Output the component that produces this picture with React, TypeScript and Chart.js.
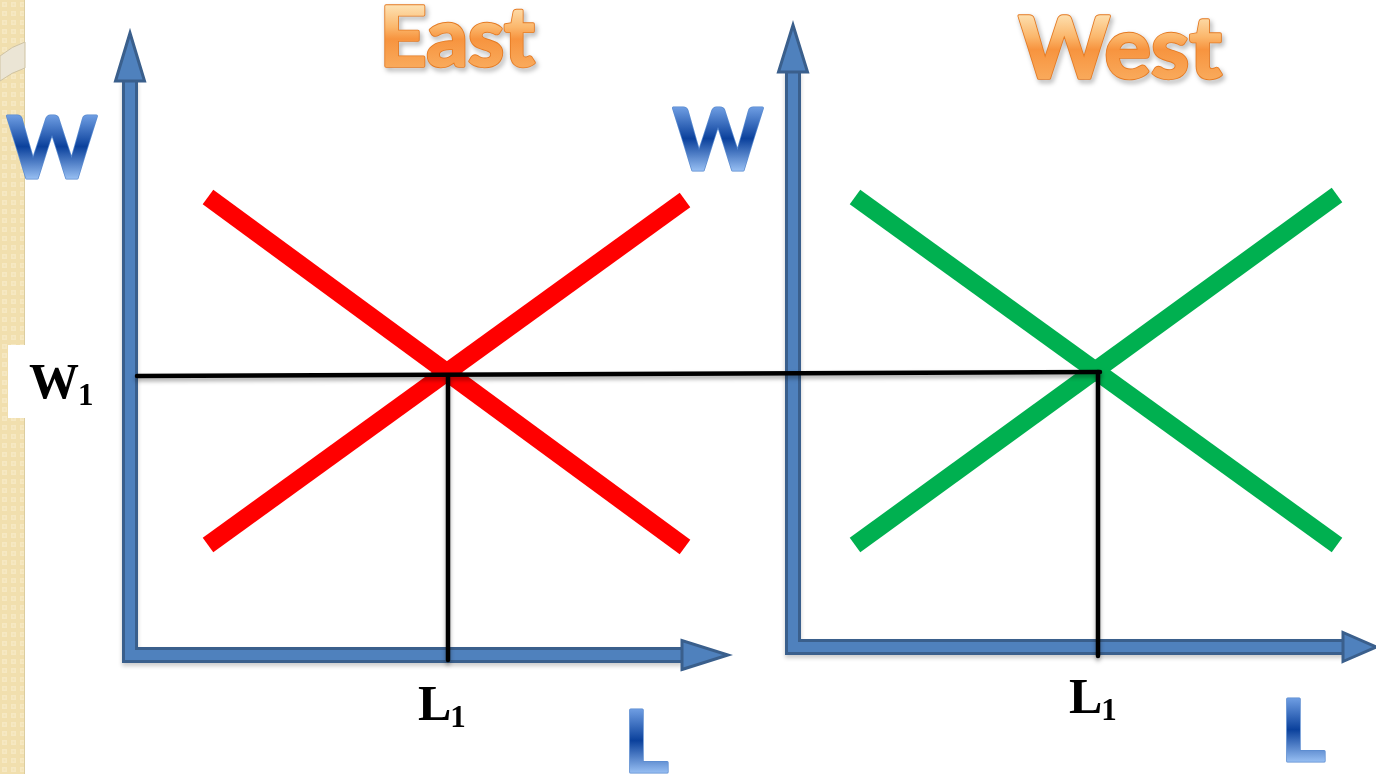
import React, { useEffect, useRef } from 'react';
import { Chart, registerables } from 'chart.js';

Chart.register(...registerables);

const PAGE_W = 1376;
const PAGE_H = 774;

// Curves and guide lines, read in page units (x from left, y from top)
const eastDemand = [{ x: 208, y: 197 }, { x: 685, y: 547 }];
const eastSupply = [{ x: 208, y: 545 }, { x: 685, y: 200 }];
const westDemand = [{ x: 855, y: 197 }, { x: 1337, y: 545 }];
const westSupply = [{ x: 855, y: 545 }, { x: 1337, y: 195 }];
const wageLine = [{ x: 137, y: 376 }, { x: 1100, y: 372 }];
const eastL1Line = [{ x: 448, y: 376 }, { x: 448, y: 660 }];
const westL1Line = [{ x: 1098, y: 372 }, { x: 1098, y: 656 }];

// Axis shafts (up to the arrow-head bases) and arrow heads
const eastAxis = [{ x: 130, y: 80 }, { x: 130, y: 655 }, { x: 683, y: 655 }];
const westAxis = [{ x: 793, y: 71 }, { x: 793, y: 647 }, { x: 1344, y: 647 }];
const arrowHeads = [
  { tip: { x: 130, y: 33 }, base: { x: 130, y: 81 } },
  { tip: { x: 728, y: 655 }, base: { x: 682, y: 655 } },
  { tip: { x: 793, y: 25 }, base: { x: 793, y: 72 } },
  { tip: { x: 1376, y: 647 }, base: { x: 1343, y: 647 } },
];

// Text labels
const titles = [
  { text: 'East', x: 457, y: 66, size: 82 },
  { text: 'West', x: 1120, y: 78, size: 87 },
];
const axisLetters = [
  { text: 'W', x: 52, y: 178, size: 86 },
  { text: 'W', x: 718, y: 170, size: 86 },
  { text: 'L', x: 646, y: 772, size: 86 },
  { text: 'L', x: 1303, y: 761, size: 86 },
];
const valueLabels = [
  { main: 'W', sub: '1', x: 29, y: 398 },
  { main: 'L', sub: '1', x: 418, y: 720 },
  { main: 'L', sub: '1', x: 1069, y: 713 },
];

const BLUE_FILL = '#4f81bd';
const BLUE_EDGE = '#3a5f8c';

function glossyText(
  ctx: CanvasRenderingContext2D,
  text: string,
  x: number,
  y: number,
  size: number,
  stops: [number, string][],
  stroke: string,
  shadow: boolean,
  weightStroke: number
) {
  ctx.save();
  ctx.font = `bold ${size}px Lato, "Open Sans", sans-serif`;
  ctx.textAlign = 'center';
  ctx.textBaseline = 'alphabetic';
  ctx.lineJoin = 'round';
  const top = y - size * 0.73;
  const g = ctx.createLinearGradient(0, top, 0, y);
  stops.forEach(([o, c]) => g.addColorStop(o, c));
  if (shadow) {
    ctx.shadowColor = 'rgba(0,0,0,0.35)';
    ctx.shadowBlur = 5;
    ctx.shadowOffsetX = 2;
    ctx.shadowOffsetY = 3;
  }
  // thickening outline
  ctx.lineWidth = weightStroke;
  ctx.strokeStyle = stroke;
  ctx.strokeText(text, x, y);
  ctx.shadowColor = 'transparent';
  ctx.fillStyle = g;
  ctx.fillText(text, x, y);
  ctx.lineWidth = weightStroke * 0.5;
  ctx.strokeStyle = g;
  ctx.strokeText(text, x, y);
  ctx.restore();
}

const decorPlugin = {
  id: 'decor',
  beforeDraw(chart: any) {
    const ctx: CanvasRenderingContext2D = chart.ctx;
    ctx.save();
    ctx.fillStyle = '#ffffff';
    ctx.fillRect(0, 0, chart.width, chart.height);
    // textured side strip
    const stripW = 25;
    ctx.fillStyle = '#f1dfae';
    ctx.fillRect(0, 0, stripW, chart.height);
    ctx.fillStyle = '#f6e8c2';
    for (let ty = 0; ty < chart.height; ty += 9) {
      for (let tx = 0; tx < stripW; tx += 9) {
        ctx.fillRect(tx + 2, ty + 2, 5, 5);
      }
    }
    ctx.fillStyle = '#f2e2b6';
    for (let ty = 0; ty < chart.height; ty += 9) {
      for (let tx = 0; tx < stripW; tx += 9) {
        ctx.fillRect(tx + 3.5, ty + 3.5, 2, 2);
      }
    }
    ctx.fillStyle = '#dccd9f';
    ctx.fillRect(stripW - 1, 0, 1, chart.height);
    // curved ribbon
    ctx.beginPath();
    ctx.moveTo(0, 56);
    ctx.quadraticCurveTo(12, 46, stripW, 42);
    ctx.lineTo(stripW, 68);
    ctx.quadraticCurveTo(12, 72, 0, 81);
    ctx.closePath();
    ctx.fillStyle = '#ebe5d5';
    ctx.fill();
    ctx.strokeStyle = '#cfc3a3';
    ctx.lineWidth = 1;
    ctx.stroke();
    // white box behind W1 label
    ctx.fillStyle = '#ffffff';
    ctx.fillRect(8, 345, 40, 73);
    ctx.restore();
  },
  beforeDatasetDraw(chart: any, args: any) {
    const ds = chart.data.datasets[args.index];
    const ctx: CanvasRenderingContext2D = chart.ctx;
    ctx.save();
    if (ds.shadow) {
      ctx.shadowColor = ds.shadow;
      ctx.shadowBlur = 4;
      ctx.shadowOffsetX = 0;
      ctx.shadowOffsetY = 3;
    }
  },
  afterDatasetDraw(chart: any) {
    chart.ctx.restore();
  },
  afterDatasetsDraw(chart: any) {
    const ctx: CanvasRenderingContext2D = chart.ctx;
    const sx = chart.scales.x;
    const sy = chart.scales.y;
    const P = (p: { x: number; y: number }) => ({ x: sx.getPixelForValue(p.x), y: sy.getPixelForValue(p.y) });

    // arrow heads
    arrowHeads.forEach((h) => {
      const t = P(h.tip);
      const b = P(h.base);
      const dx = t.x - b.x;
      const dy = t.y - b.y;
      const len = Math.hypot(dx, dy) || 1;
      const nx = -dy / len;
      const ny = dx / len;
      const hw = 14.5;
      ctx.save();
      ctx.beginPath();
      ctx.moveTo(b.x + nx * hw, b.y + ny * hw);
      ctx.lineTo(t.x, t.y);
      ctx.lineTo(b.x - nx * hw, b.y - ny * hw);
      ctx.closePath();
      ctx.fillStyle = BLUE_FILL;
      ctx.fill();
      ctx.lineWidth = 3;
      ctx.lineJoin = 'miter';
      ctx.strokeStyle = BLUE_EDGE;
      ctx.stroke();
      ctx.restore();
    });

    // titles
    titles.forEach((t) => {
      const p = P(t);
      glossyText(
        ctx,
        t.text,
        p.x,
        p.y,
        t.size,
        [
          [0, '#fde0b0'],
          [0.35, '#fbb76c'],
          [0.55, '#f7943f'],
          [1, '#f9a95a'],
        ],
        '#e57a22',
        true,
        3.5
      );
    });

    // axis letters
    axisLetters.forEach((t) => {
      const p = P(t);
      glossyText(
        ctx,
        t.text,
        p.x,
        p.y,
        t.size,
        [
          [0, '#6e9de2'],
          [0.5, '#0b419c'],
          [1, '#93bbf0'],
        ],
        '#5a8bd0',
        false,
        3
      );
    });

    // value labels with subscripts
    valueLabels.forEach((l) => {
      const p = P(l);
      ctx.save();
      ctx.fillStyle = '#000000';
      ctx.textAlign = 'left';
      ctx.textBaseline = 'alphabetic';
      ctx.font = 'bold 50px "Liberation Serif", "Times New Roman", serif';
      ctx.fillText(l.main, p.x, p.y);
      const w = ctx.measureText(l.main).width;
      ctx.font = 'bold 31px "Liberation Serif", "Times New Roman", serif';
      ctx.fillText(l.sub, p.x + w - 1, p.y + 7);
      ctx.restore();
    });
  },
};

function line(data: any[], color: string, width: number, extra: any = {}) {
  return {
    data,
    showLine: true,
    borderColor: color,
    backgroundColor: color,
    borderWidth: width,
    pointRadius: 0,
    pointHoverRadius: 0,
    fill: false,
    tension: 0,
    ...extra,
  };
}

export default function App() {
  const ref = useRef<HTMLCanvasElement | null>(null);
  useEffect(() => {
    document.body.style.margin = '0';
    if (!ref.current) return;
    const chart = new Chart(ref.current, {
      type: 'scatter',
      data: {
        datasets: [
          line(wageLine, '#000000', 4.5, { borderCapStyle: 'round', shadow: 'rgba(0,0,0,0.35)' }),
          line(eastL1Line, '#000000', 4.5, { borderCapStyle: 'round', shadow: 'rgba(0,0,0,0.35)' }),
          line(westL1Line, '#000000', 4.5, { borderCapStyle: 'round', shadow: 'rgba(0,0,0,0.35)' }),
          line(eastDemand, '#ff0000', 18),
          line(eastSupply, '#ff0000', 18),
          line(westDemand, '#00b050', 18),
          line(westSupply, '#00b050', 18),
          line(eastAxis, BLUE_FILL, 10, { borderJoinStyle: 'miter' }),
          line(westAxis, BLUE_FILL, 10, { borderJoinStyle: 'miter' }),
          line(eastAxis, BLUE_EDGE, 16, { borderJoinStyle: 'miter', shadow: 'rgba(0,0,0,0.2)' }),
          line(westAxis, BLUE_EDGE, 16, { borderJoinStyle: 'miter', shadow: 'rgba(0,0,0,0.2)' }),
        ] as any,
      },
      options: {
        animation: false,
        responsive: false,
        events: [],
        layout: { padding: 0 },
        scales: {
          x: { type: 'linear', min: 0, max: PAGE_W, display: false },
          y: { type: 'linear', min: 0, max: PAGE_H, reverse: true, display: false },
        },
        plugins: {
          legend: { display: false },
          tooltip: { enabled: false },
          title: { display: false },
        },
      } as any,
      plugins: [decorPlugin as any],
    });
    return () => chart.destroy();
  }, []);
  return (
    <div style={{ position: 'fixed', left: 0, top: 0, width: PAGE_W, height: PAGE_H, background: '#fff' }}>
      <canvas ref={ref} width={PAGE_W} height={PAGE_H} style={{ display: 'block' }} />
    </div>
  );
}
